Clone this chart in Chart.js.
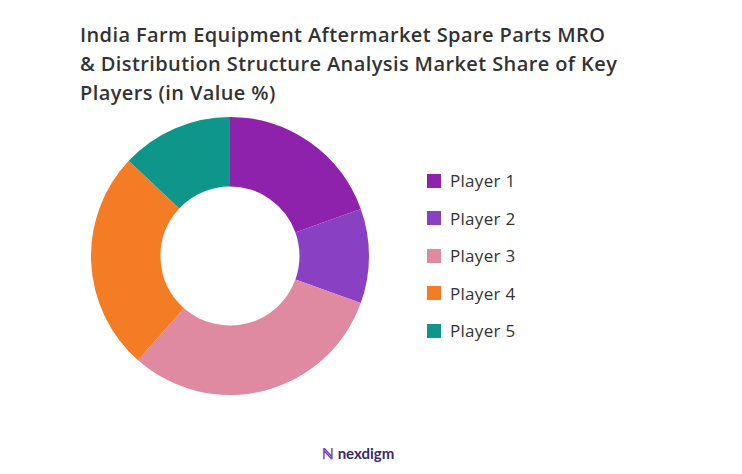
<!DOCTYPE html>
<html><head><meta charset="utf-8">
<script src="https://cdn.jsdelivr.net/npm/chart.js@4"></script>
<style>
body{margin:0;width:742px;height:474px;background:#fff;font-family:"Open Sans",sans-serif;position:relative;overflow:hidden}
#title{position:absolute;left:80px;top:20px;width:542px;font-size:20px;letter-spacing:0.4px;font-weight:600;color:#333;line-height:29px}
#wrap{position:absolute;left:91px;top:117px;width:278px;height:278px}
#legend{position:absolute;left:427px;top:162px}
.it{display:flex;align-items:center;height:37.5px;font-size:17px;letter-spacing:0.3px;color:#333}
.sw{width:14px;height:14px;margin-right:9px}
#foot{position:absolute;left:322px;top:443px;font-size:15px;font-weight:700;color:#3a2a6a;font-family:Lato,sans-serif}
</style></head><body>
<div id="title">India Farm Equipment Aftermarket Spare Parts MRO &amp; Distribution Structure Analysis Market Share of Key Players (in Value %)</div>
<div id="wrap"><canvas id="c"></canvas></div>
<div id="legend"></div>
<div id="foot"><span style="color:#7b3fc4">ℕ</span> nexdigm</div>
<script>
const categories=["Player 1","Player 2","Player 3","Player 4","Player 5"];
const shares=[19.5,11,31,25.5,13];
const colors=["#8e22ac","#8a40c2","#e08aa2","#f47c25","#0f968a"];
new Chart(document.getElementById('c'),{type:'doughnut',
data:{labels:categories,datasets:[{data:shares,backgroundColor:colors,borderWidth:0}]},
options:{responsive:true,maintainAspectRatio:false,cutout:'50%',animation:false,
plugins:{legend:{display:false},tooltip:{enabled:false}}}});
const lg=document.getElementById('legend');
categories.forEach((c,i)=>{lg.innerHTML+=`<div class="it"><div class="sw" style="background:${colors[i]}"></div>${c}</div>`;});
</script></body></html>
